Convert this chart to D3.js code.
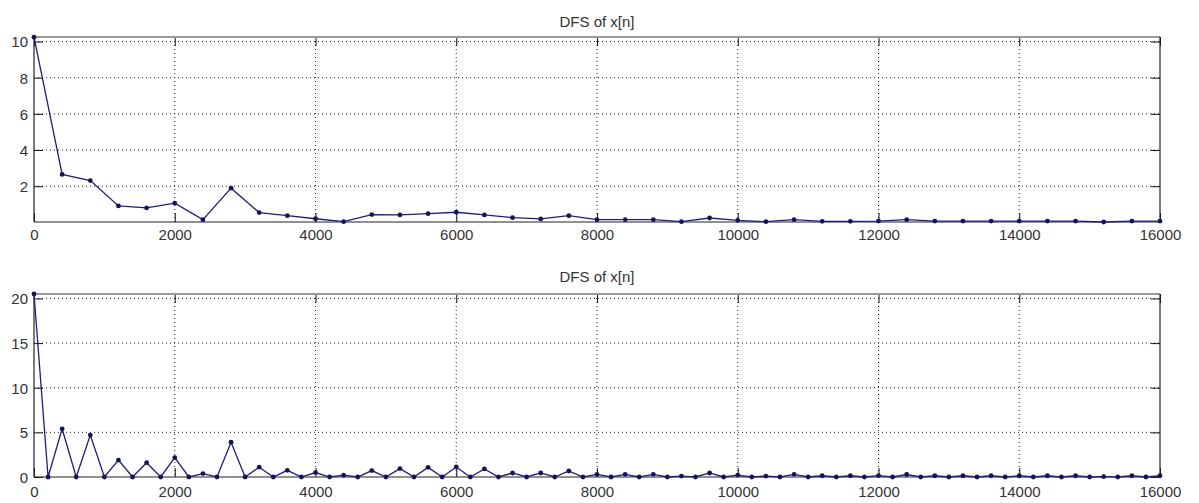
<!DOCTYPE html>
<html>
<head>
<meta charset="utf-8">
<script src="https://cdn.jsdelivr.net/npm/d3@7/dist/d3.min.js"></script>
<style>
  html, body { margin: 0; padding: 0; background: #fff; }
  svg { display: block; }
  text { font-family: "Liberation Sans", Arial, Helvetica, sans-serif; fill: #333; }
</style>
</head>
<body>
<svg id="chart" width="1199" height="503"></svg>
<script>
// ---- data ----
const titleText = "DFS of x[n]";
const xTicks = [0, 2000, 4000, 6000, 8000, 10000, 12000, 14000, 16000];

// top panel: frequency step 400
const topFreq = d3.range(0, 16001, 400);
const topValues = [
  10.24, 2.65, 2.31, 0.91, 0.80, 1.06, 0.15, 1.89, 0.54, 0.37,
  0.20, 0.04, 0.43, 0.41, 0.48, 0.56, 0.41, 0.26, 0.19, 0.37,
  0.15, 0.15, 0.15, 0.04, 0.24, 0.11, 0.04, 0.15, 0.06, 0.06,
  0.07, 0.15, 0.07, 0.07, 0.07, 0.07, 0.07, 0.07, 0.02, 0.07,
  0.07
];
const topYTicks = [2, 4, 6, 8, 10];

// bottom panel: frequency step 200
const botFreq = d3.range(0, 16001, 200);
const botValues = [
  20.5, 0, 5.40, 0, 4.70, 0, 1.90, 0, 1.60, 0,
  2.16, 0, 0.38, 0, 3.90, 0, 1.10, 0, 0.75, 0,
  0.50, 0, 0.20, 0, 0.72, 0, 0.94, 0, 1.08, 0,
  1.12, 0, 0.90, 0, 0.45, 0, 0.45, 0, 0.67, 0,
  0.30, 0, 0.30, 0, 0.30, 0, 0.10, 0, 0.45, 0,
  0.22, 0, 0.10, 0, 0.30, 0, 0.14, 0, 0.14, 0,
  0.16, 0, 0.28, 0, 0.14, 0, 0.14, 0, 0.14, 0,
  0.14, 0, 0.14, 0, 0.14, 0, 0.04, 0, 0.14, 0,
  0.14
];
const botYTicks = [0, 5, 10, 15, 20];

// ---- drawing ----
const svg = d3.select("#chart");
const lineColor = "#1e1e78";

function panel(opts) {
  const { top, bottom, left, right, freq, values, yDomain, yTicks, titleY, xLabelY } = opts;
  const x = d3.scaleLinear().domain([0, 16000]).range([left, right]);
  const y = d3.scaleLinear().domain(yDomain).range([bottom, top]);
  const g = svg.append("g");

  // grid
  g.append("g").selectAll("line").data(xTicks.filter(t => t > 0 && t < 16000)).join("line")
    .attr("x1", d => x(d)).attr("x2", d => x(d)).attr("y1", top).attr("y2", bottom)
    .attr("stroke", "#222").attr("stroke-width", 1).attr("stroke-dasharray", "1,3");
  g.append("g").selectAll("line").data(yTicks.filter(t => y(t) > top + 1 && y(t) < bottom - 1)).join("line")
    .attr("x1", left).attr("x2", right).attr("y1", d => y(d)).attr("y2", d => y(d))
    .attr("stroke", "#222").attr("stroke-width", 1).attr("stroke-dasharray", "1,3");

  // axes via d3 (inward ticks, labels placed outside)
  const tickLen = 9;
  const xb = g.append("g").attr("transform", `translate(0,${bottom})`)
    .call(d3.axisBottom(x).tickValues(xTicks).tickSize(-tickLen).tickPadding(8).tickFormat(d3.format("d")));
  const xt = g.append("g").attr("transform", `translate(0,${top})`)
    .call(d3.axisTop(x).tickValues(xTicks).tickSize(-tickLen).tickFormat(""));
  const yl = g.append("g").attr("transform", `translate(${left},0)`)
    .call(d3.axisLeft(y).tickValues(yTicks).tickSize(-tickLen).tickPadding(6).tickFormat(d3.format("d")));
  const yr = g.append("g").attr("transform", `translate(${right},0)`)
    .call(d3.axisRight(y).tickValues(yTicks).tickSize(-tickLen).tickFormat(""));
  [xb, xt, yl, yr].forEach(a => {
    a.select(".domain").remove();
    a.selectAll(".tick line").attr("stroke", "#111").attr("stroke-width", 1);
    a.selectAll("text").attr("font-size", 15).attr("fill", "#333")
      .style("font-family", '"Liberation Sans", Arial, sans-serif');
  });
  xb.selectAll("text").attr("y", null).attr("dy", null)
    .attr("transform", null)
    .each(function () { d3.select(this).attr("y", xLabelY - bottom); });
  yl.selectAll("text").attr("x", -6).attr("dy", "0.36em");

  // box
  g.append("line").attr("x1", left).attr("x2", right).attr("y1", top).attr("y2", top)
    .attr("stroke", "#9a9a9a").attr("stroke-width", 2);
  g.append("line").attr("x1", left).attr("x2", right).attr("y1", bottom).attr("y2", bottom)
    .attr("stroke", "#222").attr("stroke-width", 1.2);
  g.append("line").attr("x1", left).attr("x2", left).attr("y1", top).attr("y2", bottom)
    .attr("stroke", "#222").attr("stroke-width", 1.2);
  g.append("line").attr("x1", right).attr("x2", right).attr("y1", top).attr("y2", bottom)
    .attr("stroke", "#222").attr("stroke-width", 1.2);

  // data line
  const pts = freq.map((f, i) => [f, values[i]]);
  g.append("path").datum(pts)
    .attr("d", d3.line().x(d => x(d[0])).y(d => y(d[1])))
    .attr("fill", "none").attr("stroke", lineColor).attr("stroke-width", 1.3);
  g.append("g").selectAll("circle").data(pts).join("circle")
    .attr("cx", d => x(d[0])).attr("cy", d => y(d[1])).attr("r", 2.4)
    .attr("fill", "#14145a");

  // title
  g.append("text").attr("x", (left + right) / 2).attr("y", titleY)
    .attr("text-anchor", "middle").attr("font-size", 15).text(titleText);
}

panel({ top: 37, bottom: 222, left: 34, right: 1160, freq: topFreq, values: topValues,
        yDomain: [0.02, 10.25], yTicks: topYTicks, titleY: 27, xLabelY: 240 });
panel({ top: 294, bottom: 477, left: 34, right: 1160, freq: botFreq, values: botValues,
        yDomain: [0, 20.5], yTicks: botYTicks, titleY: 282, xLabelY: 497 });
</script>
</body>
</html>
